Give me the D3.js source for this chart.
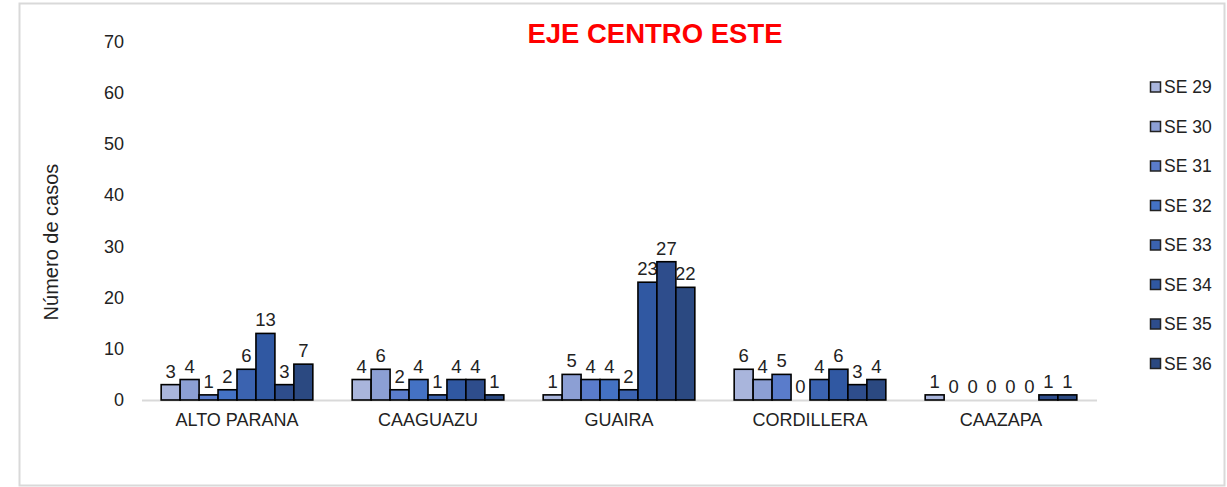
<!DOCTYPE html>
<html><head><meta charset="utf-8">
<script src="https://cdn.jsdelivr.net/npm/d3@7"></script>
<style>body{margin:0;background:#fff;font-family:"Liberation Sans",Arial,sans-serif}</style>
</head><body><svg id="c" width="1227" height="487"></svg>
<script>
const categories = ["ALTO PARANA","CAAGUAZU","GUAIRA","CORDILLERA","CAAZAPA"];
const seriesNames = ["SE 29","SE 30","SE 31","SE 32","SE 33","SE 34","SE 35","SE 36"];
const se29 = [3,4,1,6,1];
const se30 = [4,6,5,4,0];
const se31 = [1,2,4,5,0];
const se32 = [2,4,4,0,0];
const se33 = [6,1,2,4,0];
const se34 = [13,4,23,6,0];
const se35 = [3,4,27,3,1];
const se36 = [7,1,22,4,1];
const seriesValues = [se29,se30,se31,se32,se33,se34,se35,se36];
const colors = ["#a9b5dc","#8c9fd4","#5a7ccb","#4472c4","#3b63b0","#3058a2","#2e4d8c","#2b4981"];
const yTicks = [0,10,20,30,40,50,60,70];

const svg = d3.select("#c");
svg.append("rect").attr("x",19.5).attr("y",3.5).attr("width",1205).attr("height",482)
  .attr("fill","#fff").attr("stroke","#d9d9d9").attr("stroke-width",2);

const x0 = d3.scaleBand().domain(categories).range([141.5,1096.5]).paddingInner(0.206).paddingOuter(0.103);
const x1 = d3.scaleBand().domain(seriesNames).range([0,x0.bandwidth()]);
const y = d3.scaleLinear().domain([0,70]).range([400,41.5]);

svg.append("text").attr("x",655).attr("y",43).attr("text-anchor","middle")
  .attr("font-size",27.5).attr("font-weight","bold").attr("fill","#ff0000").text("EJE CENTRO ESTE");

// y axis tick labels
const yAxis = d3.axisLeft(y).tickValues(yTicks).tickSize(0).tickPadding(0);
const gy = svg.append("g").attr("transform","translate(124,0)").call(yAxis);
gy.select(".domain").remove();
gy.selectAll("text").attr("font-size",18).attr("font-family","Liberation Sans, Arial, sans-serif").attr("fill","#222");

svg.append("text").attr("transform","translate(58,242) rotate(-90)").attr("text-anchor","middle")
  .attr("font-size",20).attr("fill","#222").text("Número de casos");

// baseline / x axis
const xAxis = d3.axisBottom(x0).tickSize(0).tickPadding(13);
const gx = svg.append("g").attr("transform","translate(0,400)").call(xAxis);
gx.select(".domain").attr("stroke","#d9d9d9").attr("stroke-width",2);
gx.selectAll("text").attr("font-size",18).attr("font-family","Liberation Sans, Arial, sans-serif").attr("fill","#222");

// bars
categories.forEach((cat,ci)=>{
  seriesNames.forEach((s,si)=>{
    const v = seriesValues[si][ci];
    const bx = x0(cat)+x1(s);
    if (v>0) {
      svg.append("rect").attr("x",bx).attr("y",y(v)).attr("width",x1.bandwidth())
        .attr("height",y(0)-y(v)).attr("fill",colors[si]).attr("stroke","#000").attr("stroke-width",1.6);
    }
    svg.append("text").attr("x",bx+x1.bandwidth()/2).attr("y",y(v)-7).attr("text-anchor","middle")
      .attr("font-size",18.5).attr("fill","#222").text(v);
  });
});

// legend
seriesNames.forEach((s,i)=>{
  const ly = 87 + i*39.5;
  svg.append("rect").attr("x",1150.5).attr("y",ly-5).attr("width",10).attr("height",10)
    .attr("fill",colors[i]).attr("stroke","#222").attr("stroke-width",1.5);
  svg.append("text").attr("x",1164).attr("y",ly+6).attr("font-size",17.5).attr("fill","#222").text(s);
});
</script></body></html>
